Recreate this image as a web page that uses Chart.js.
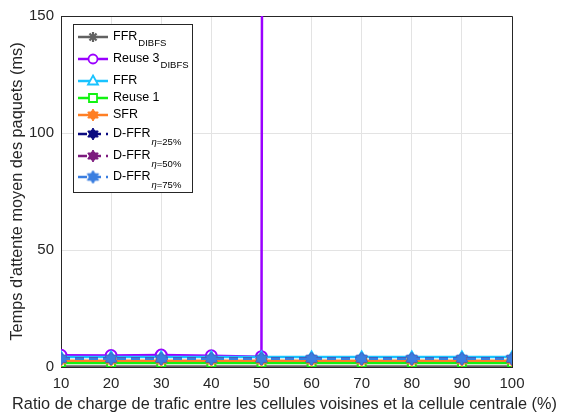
<!DOCTYPE html>
<html>
<head>
<meta charset="utf-8">
<script src="https://cdn.jsdelivr.net/npm/chart.js@4/dist/chart.umd.min.js"></script>
<style>
  html, body { margin: 0; padding: 0; background: #fff; }
  #wrap { width: 566px; height: 418px; }
</style>
</head>
<body>
<div id="wrap"><canvas id="c" width="566" height="418"></canvas></div>
<script>
// data
const ratios = [10, 20, 30, 40, 50, 60, 70, 80, 90, 100];
const yTicks = [0, 50, 100, 150];
const ffrDibfs = [0.2, 0.2, 0.2, 0.2, 0.2, 0.2, 0.2, 0.2, 0.2, 0.2];
// Reuse 3 blows up after 50% (off the chart)
const reuse3Dibfs = [5.0, 4.9, 5.1, 4.8, 4.4, 100000, 100000, 100000, 100000, 100000];
const ffr = [4.3, 4.3, 4.3, 4.3, 4.3, 4.3, 4.3, 4.3, 4.3, 4.3];
const reuse1 = [1.7, 1.7, 1.7, 1.7, 1.7, 1.7, 1.7, 1.7, 1.7, 1.7];
const sfr = [2.7, 2.7, 2.7, 2.7, 2.7, 2.7, 2.7, 2.7, 2.7, 2.7];
const dffr25 = [3.5, 3.5, 3.5, 3.5, 3.5, 3.5, 3.5, 3.5, 3.5, 3.5];
const dffr50 = [3.5, 3.5, 3.5, 3.5, 3.5, 3.5, 3.5, 3.5, 3.5, 3.5];
const dffr75 = [3.5, 3.5, 3.5, 3.5, 3.5, 3.5, 3.5, 3.5, 3.5, 3.5];

const FONT = "'Liberation Sans', Arial, Helvetica, sans-serif";
const AXIS = "#262626";

// marker images
function hexagram(color, r) {
    const s = Math.ceil(r * 2 + 4);
    const cv = document.createElement("canvas");
    cv.width = s; cv.height = s;
    const g = cv.getContext("2d");
    const c = s / 2;
    g.fillStyle = color;
    g.strokeStyle = color;
    g.lineWidth = 1;
    [-Math.PI / 2, Math.PI / 2].forEach(a0 => {
        g.beginPath();
        for (let k = 0; k < 3; k++) {
            const a = a0 + k * 2 * Math.PI / 3;
            const x = c + r * Math.cos(a), y = c + r * Math.sin(a);
            if (k === 0) g.moveTo(x, y); else g.lineTo(x, y);
        }
        g.closePath();
        g.fill();
        g.stroke();
    });
    return cv;
}

function asterisk(color, r) {
    const s = Math.ceil(r * 2 + 4);
    const cv = document.createElement("canvas");
    cv.width = s; cv.height = s;
    const g = cv.getContext("2d");
    const c = s / 2;
    g.strokeStyle = color;
    g.lineWidth = 2.2;
    for (let k = 0; k < 4; k++) {
        const a = k * Math.PI / 4;
        g.beginPath();
        g.moveTo(c - r * Math.cos(a), c - r * Math.sin(a));
        g.lineTo(c + r * Math.cos(a), c + r * Math.sin(a));
        g.stroke();
    }
    return cv;
}

const series = [
    { name: "FFR", sub: "DIBFS", data: ffrDibfs, color: "#616161", marker: asterisk("#616161", 5), dash: [] },
    { name: "Reuse 3", sub: "DIBFS", data: reuse3Dibfs, color: "#9a00ff", marker: "circle", fill: "#ffffff", dash: [] },
    { name: "FFR", sub: "", data: ffr, color: "#19c3ff", marker: "triangle", fill: "#ffffff", dash: [] },
    { name: "Reuse 1", sub: "", data: reuse1, color: "#12f312", marker: "rect", fill: "#ffffff", dash: [] },
    { name: "SFR", sub: "", data: sfr, color: "#ff7f24", marker: hexagram("#ff7f24", 6), dash: [] },
    { name: "D-FFR", sub: "\u03b7=25%", data: dffr25, color: "#0a0a80", marker: hexagram("#0a0a80", 6), dash: [9, 5] },
    { name: "D-FFR", sub: "\u03b7=50%", data: dffr50, color: "#7c1a7e", marker: hexagram("#7c1a7e", 6), dash: [9, 5] },
    { name: "D-FFR", sub: "\u03b7=75%", data: dffr75, color: "#3a7ee0", marker: hexagram("#3a7ee0", 6.5), dash: [9, 5] },
];

const datasets = series.map((s, i) => ({
    label: s.name + (s.sub ? " " + s.sub : ""),
    data: ratios.map((x, j) => ({ x: x, y: s.data[j] })),
    borderColor: s.color,
    backgroundColor: s.fill || s.color,
    borderWidth: 2.5,
    borderDash: s.dash,
    pointStyle: s.marker,
    pointRadius: 5.5,
    pointBorderWidth: 2,
    pointBorderColor: s.color,
    pointBackgroundColor: s.fill || s.color,
    order: series.length - 1 - i,
    tension: 0,
}));

const legendRows = [37, 59, 81, 98, 115, 134, 156, 177];

const decorPlugin = {
    id: "decor",
    beforeDatasetsDraw(chart) {
        // box on top and right
        const a = chart.chartArea, ctx = chart.ctx;
        ctx.save();
        ctx.strokeStyle = AXIS;
        ctx.lineWidth = 1;
        ctx.beginPath();
        ctx.moveTo(a.left, a.top + 0.5);
        ctx.lineTo(a.right + 0.5, a.top + 0.5);
        ctx.lineTo(a.right + 0.5, a.bottom);
        ctx.stroke();
        ctx.restore();
    },
    afterDraw(chart) {
        const ctx = chart.ctx, a = chart.chartArea;
        ctx.save();
        // axis titles
        ctx.fillStyle = AXIS;
        ctx.font = "16.3px " + FONT;
        ctx.textAlign = "center";
        ctx.textBaseline = "middle";
        ctx.fillText("Ratio de charge de trafic entre les cellules voisines et la cellule centrale (%)", (a.left + a.right) / 2 - 2, 405);
        ctx.save();
        ctx.translate(18, (a.top + a.bottom) / 2);
        ctx.rotate(-Math.PI / 2);
        ctx.fillText("Temps d'attente moyen des paquets (ms)", 0, 0);
        ctx.restore();

        // legend
        ctx.fillStyle = "#ffffff";
        ctx.fillRect(73.5, 24.5, 119, 168);
        ctx.strokeStyle = AXIS;
        ctx.lineWidth = 1;
        ctx.strokeRect(73.5, 24.5, 119, 168);
        series.forEach((s, i) => {
            const y = legendRows[i];
            ctx.save();
            ctx.strokeStyle = s.color;
            ctx.lineWidth = 2.5;
            ctx.setLineDash(s.dash);
            ctx.beginPath();
            ctx.moveTo(78, y);
            ctx.lineTo(108, y);
            ctx.stroke();
            ctx.restore();
            const m = s.marker;
            if (typeof m !== "string") {
                ctx.drawImage(m, 93 - m.width / 2, y - m.height / 2);
            } else {
                ctx.save();
                ctx.fillStyle = s.fill;
                ctx.strokeStyle = s.color;
                ctx.lineWidth = 1.8;
                ctx.beginPath();
                if (m === "circle") {
                    ctx.arc(93, y, 4.5, 0, Math.PI * 2);
                } else if (m === "triangle") {
                    ctx.moveTo(93, y - 5.5);
                    ctx.lineTo(98, y + 3.5);
                    ctx.lineTo(88, y + 3.5);
                    ctx.closePath();
                } else {
                    ctx.rect(89, y - 4, 8, 8);
                }
                ctx.fill();
                ctx.stroke();
                ctx.restore();
            }
            ctx.fillStyle = "#000";
            ctx.textAlign = "left";
            ctx.textBaseline = "middle";
            ctx.font = "12.5px " + FONT;
            ctx.fillText(s.name, 113, y);
            if (s.sub) {
                const w = ctx.measureText(s.name).width;
                const isEta = s.sub.charAt(0) === "\u03b7";
                ctx.font = (isEta ? "italic " : "") + "9.5px " + FONT;
                if (isEta) {
                    ctx.fillText("\u03b7", 113 + w + 1, y + 8);
                    const ew = ctx.measureText("\u03b7").width;
                    ctx.font = "9.5px " + FONT;
                    ctx.fillText(s.sub.slice(1), 113 + w + 1 + ew, y + 8);
                } else {
                    ctx.fillText(s.sub, 113 + w + 1, y + 6);
                }
            }
        });
        ctx.restore();
    }
};

new Chart(document.getElementById("c"), {
    type: "line",
    data: { datasets: datasets },
    options: {
        responsive: false,
        animation: false,
        devicePixelRatio: 1,
        layout: { padding: { left: 0, right: 54, top: 12, bottom: 0 } },
        plugins: {
            legend: { display: false },
            tooltip: { enabled: false },
        },
        scales: {
            x: {
                type: "linear",
                min: 10,
                max: 100,
                afterFit: s => { s.height = 51; },
                afterBuildTicks: s => { s.ticks = ratios.map(v => ({ value: v })); },
                grid: { color: "#e3e3e3", drawTicks: false },
                border: { color: AXIS, width: 1 },
                ticks: { color: AXIS, font: { family: FONT, size: 15 }, padding: 8, maxRotation: 0 },
            },
            y: {
                min: 0,
                max: 150,
                afterFit: s => { s.width = 61; },
                afterBuildTicks: s => { s.ticks = yTicks.map(v => ({ value: v })); },
                grid: { color: "#e3e3e3", drawTicks: false },
                border: { color: AXIS, width: 1 },
                ticks: { color: AXIS, font: { family: FONT, size: 15 }, padding: 7 },
            },
        },
    },
    plugins: [decorPlugin],
});
</script>
</body>
</html>
